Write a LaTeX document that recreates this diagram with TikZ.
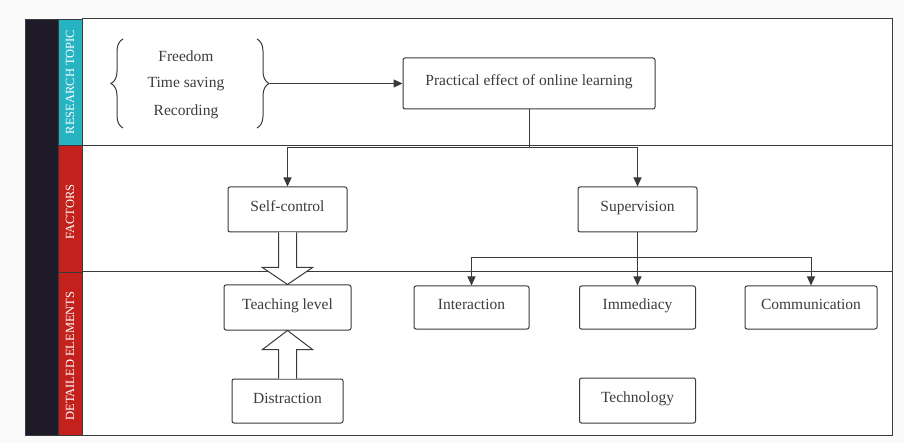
\documentclass[tikz,border=0pt]{standalone}
\usepackage{fontspec}
\setmainfont{Liberation Serif}
\usetikzlibrary{calc,arrows.meta,decorations.pathreplacing}
\definecolor{bandk}{HTML}{1E1A28}
\definecolor{bandc}{HTML}{26B4C3}
\definecolor{bandr}{HTML}{C4211D}
\definecolor{ln}{HTML}{3A3A3A}
\definecolor{tx}{HTML}{3C3C3C}
\definecolor{bg}{HTML}{FAFAFA}
\begin{document}
\begin{tikzpicture}[x=1pt,y=-1pt,
  box/.style={draw=ln, line width=1pt, rounded corners=2pt, fill=white, text=tx,
    font=\fontsize{15.5}{18}\selectfont, inner sep=0pt, text height=0.7em, text depth=0.22em},
  conn/.style={draw=ln, line width=1pt},
  arr/.style={conn, -{Triangle[length=9pt,width=8pt]}},
  band/.style={draw=ln, line width=0.8pt},
  bandlabel/.style={rotate=90, text=white, font=\fontsize{12.5}{14}\selectfont},
  plain/.style={text=tx, font=\fontsize{15.5}{18}\selectfont},
  hollow/.style={draw=ln, line width=1pt, fill=white, line join=miter},
  brc/.style={draw=ln, line width=1pt, decorate, decoration={brace, amplitude=12pt}}
]
\useasboundingbox (0,0) rectangle (904,443);
\fill[bg] (0,0) rectangle (904,443);

% bands
\fill[white] (82,19) rectangle (892,435);
\draw[band, fill=bandk] (25,19) rectangle (58,435);
\draw[band, fill=bandc] (58,19) rectangle (82,145);
\draw[band, fill=bandr] (58,145) rectangle (82,272);
\draw[band, fill=bandr] (58,272) rectangle (82,435);
\node[bandlabel] (l1) at (70,82) {RESEARCH TOPIC};
\node[bandlabel] (l2) at (70,212) {FACTORS};
\node[bandlabel] (l3) at (70,356) {DETAILED ELEMENTS};
\draw[conn] (82,19) rectangle (892,435);
\draw[conn] (82,146) -- (892,146);
\draw[conn] (82,272) -- (892,272);

% research topic
\node[plain] (fr) at (186,56) {Freedom};
\node[plain] (ts) at (186,84) {Time saving};
\node[plain] (rc) at (186,112) {Recording};
\draw[brc] (123,128) -- (123,39);
\draw[brc] (257,39) -- (257,128);
\coordinate (bt) at (270,83.5);

\node[box, minimum width=252pt, minimum height=51pt] (pe) at (529,83.5) {Practical effect of online learning};
\draw[arr] (bt) -- (pe.west);

% factors
\node[box, minimum width=119pt, minimum height=45pt] (sc) at (287.5,209.5) {Self-control};
\node[box, minimum width=119pt, minimum height=45pt] (sv) at (637.5,209.5) {Supervision};
\coordinate (j1) at (529,147.5);
\draw[conn] (pe.south) -- (j1);
\draw[arr] (j1) -| (sc.north);
\draw[arr] (j1) -| (sv.north);

% detailed elements
\node[box, minimum width=127pt, minimum height=45pt] (tl) at (287.5,307.5) {Teaching level};
\node[box, minimum width=111pt, minimum height=44pt] (ds) at (287.5,401) {Distraction};
\node[box, minimum width=115pt, minimum height=43pt] (in) at (471.5,307.5) {Interaction};
\node[box, minimum width=116pt, minimum height=43pt] (im) at (637.5,307.5) {Immediacy};
\node[box, minimum width=132pt, minimum height=43pt] (cm) at (811,307.5) {Communication};
\node[box, minimum width=116pt, minimum height=45pt] (tc) at (637.5,400.5) {Technology};

\coordinate (j2) at (637.5,258);
\draw[arr] (sv.south) -- (im.north);
\draw[arr] (j2) -| (in.north);
\draw[arr] (j2) -| (cm.north);

% hollow arrows
\draw[hollow] ($(sc.south)+(-9,0)$) -- ($(sc.south)+(-9,35)$) -- ($(sc.south)+(-25,35)$)
  -- (tl.north) -- ($(sc.south)+(25,35)$) -- ($(sc.south)+(9,35)$) -- ($(sc.south)+(9,0)$);
\draw[hollow] ($(ds.north)+(-9,0)$) -- ($(ds.north)+(-9,-29)$) -- ($(ds.north)+(-25,-29)$)
  -- (tl.south) -- ($(ds.north)+(25,-29)$) -- ($(ds.north)+(9,-29)$) -- ($(ds.north)+(9,0)$);
\end{tikzpicture}
\end{document}
